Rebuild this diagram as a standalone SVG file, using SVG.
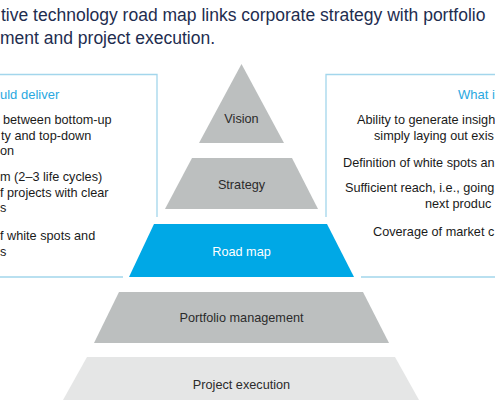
<svg xmlns="http://www.w3.org/2000/svg" width="495" height="400" viewBox="0 0 495 400">
<style>
.title{font-family:"Liberation Sans",Arial,sans-serif;font-size:17.5px;fill:#1e2d4f}
.head{font-family:"Liberation Sans",Arial,sans-serif;font-size:13px;fill:#2aa8df}
.body{font-family:"Liberation Sans",Arial,sans-serif;font-size:12.7px;fill:#1a1a1a}
.lbl{font-family:"Liberation Sans",Arial,sans-serif;font-size:12.7px;fill:#2b2b2b;text-anchor:middle}
.frame{fill:none;stroke:#a3d6ec;stroke-width:1.3}
.gray{fill:#bcbfbf}
.light{fill:#e5e6e6}
.blue{fill:#00a8e6}
</style>
<rect width="495" height="400" fill="#ffffff"/>
<text class="title" x="1" y="21">tive technology road map links corporate strategy with portfolio</text>
<text class="title" x="0" y="43.5">ment and project execution.</text>

<g id="connectors">
<path class="frame" d="M0 74.5H157V217M0 277H123"/>
<path class="frame" d="M495 74.5H326V217M495 277H361"/>
</g>

<g id="left-box">
<text class="head" x="0" y="98.5">uld deliver</text>
<text class="body" x="3" y="124">between bottom-up</text>
<text class="body" x="1" y="139.5">ty and top-down</text>
<text class="body" x="0" y="155">on</text>
<text class="body" x="0" y="181">m (2–3 life cycles)</text>
<text class="body" x="0" y="196.5">f projects with clear</text>
<text class="body" x="0" y="212">s</text>
<text class="body" x="0" y="240">f white spots and</text>
<text class="body" x="0" y="255.5">s</text>
</g>

<g id="right-box">
<text class="head" x="458" y="98.5">What i</text>
<text class="body" x="357" y="124">Ability to generate insigh</text>
<text class="body" x="374" y="139.5">simply laying out exis</text>
<text class="body" x="343" y="166.5">Definition of white spots an</text>
<text class="body" x="345" y="192">Sufficient reach, i.e., going</text>
<text class="body" x="425" y="207.5">next produc</text>
<text class="body" x="373" y="236">Coverage of market c</text>
</g>

<g id="vision">
<polygon class="gray" points="241.5,64 199,143 284,143"/>
<text class="lbl" x="241.5" y="122.5">Vision</text>
</g>
<g id="strategy">
<polygon class="gray" points="192,158 292,158 318,209 165,209"/>
<text class="lbl" x="241.5" y="189">Strategy</text>
</g>
<g id="road-map">
<polygon class="blue" points="154,224 327,224 354,277 129,277"/>
<text class="lbl" x="241.5" y="255.5" style="fill:#ffffff">Road map</text>
</g>
<g id="portfolio-management">
<polygon class="gray" points="119,292 363,292 389,343 94,343"/>
<text class="lbl" x="241.5" y="322">Portfolio management</text>
</g>
<g id="project-execution">
<polygon class="light" points="87,357 395,357 419,400 63,400"/>
<text class="lbl" x="241.5" y="388.5">Project execution</text>
</g>
</svg>
